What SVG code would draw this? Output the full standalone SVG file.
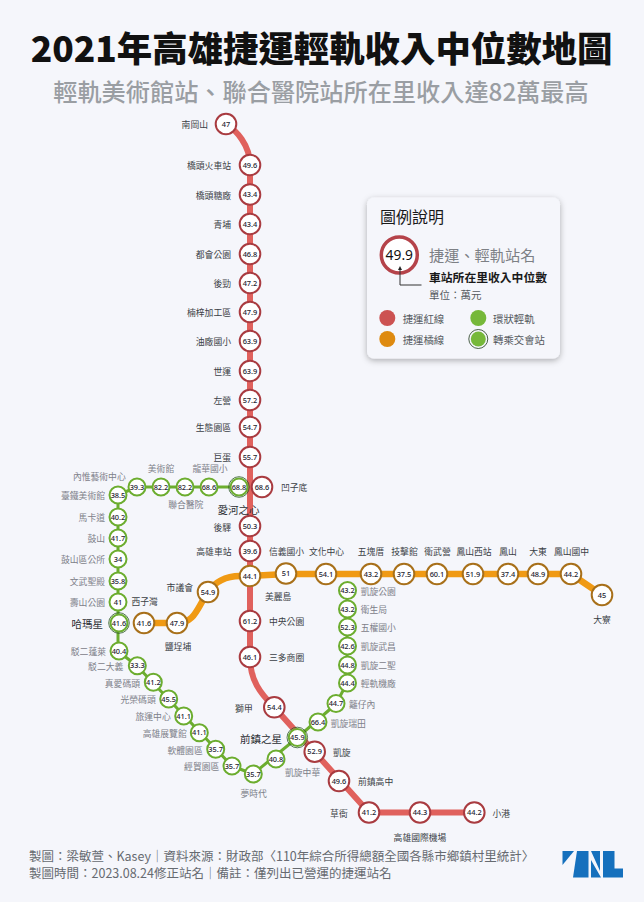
<svg xmlns="http://www.w3.org/2000/svg" width="644" height="902" viewBox="0 0 644 902">
<defs>
<style>
text{font-family:"Noto Sans CJK TC","Noto Sans",sans-serif}
.bg{fill:#f5f6fb}
.n{font-size:7.4px;font-weight:500;fill:#1d2430;text-anchor:middle;font-family:"Noto Sans","Noto Sans CJK TC",sans-serif}
.r circle.o{fill:#fff;stroke:#a93b40;stroke-width:2}
.y circle.o{fill:#fff;stroke:#a8701a;stroke-width:2}
.g circle.o{fill:#fff;stroke:#6cad2f;stroke-width:2}
.ring{fill:none;stroke:#2f5a28;stroke-width:.8}
.l{font-size:8.8px;fill:#3b3f46}
.lg{font-size:8.8px;fill:#7d8089}
.lb{font-size:10.5px;fill:#2b2e33}
.e{text-anchor:end}
.m{text-anchor:middle}
.lr{fill:none;stroke:#e0615d;stroke-width:6;stroke-linejoin:round}
.ly{fill:none;stroke:#f09a14;stroke-width:6.5;stroke-linejoin:round}
.lgn{fill:none;stroke:#6cad2f;stroke-width:3;stroke-linejoin:round}
.ft{font-size:12.5px;fill:#666a70}
.k{font-size:10.4px;fill:#555a60}
</style>
<filter id="sh" x="-10%" y="-10%" width="120%" height="125%"><feDropShadow dx="0" dy="2" stdDeviation="3" flood-color="#000" flood-opacity=".3"/></filter>
<marker id="ah" markerWidth="4" markerHeight="4" refX="2" refY="2" orient="auto"><path d="M0 0L4 2L0 4z" fill="#222"/></marker>
</defs>
<rect class="bg" width="644" height="902"/>
<text x="321.500" y="62" font-size="35.400" font-weight="900" fill="#111" text-anchor="middle">2021年高雄捷運輕軌收入中位數地圖</text>
<text x="321" y="100.500" font-size="24.200" font-weight="500" fill="#9a9ea3" text-anchor="middle">輕軌美術館站、聯合醫院站所在里收入達82萬最高</text>
<g id="connectors">
<path class="lgn" d="M239 487H137L118 495V651L137 666L232 766L253 774L297 738L336 704L347 683V590"/>
<path class="lr" d="M226 124C236 130 250 145 250 165V657C250 680 260 693 274 707L369 812.500H474"/>
<path class="ly" d="M144 623H177C195 623 197 608 208 592C214 583 225 576 240 576L250 576L286 574H571L602 595"/>
</g>
<g id="st-nangangshan" class="r"><circle class="o" cx="226" cy="124" r="10.300"/><text class="n" x="226" y="126.600">47</text><text class="l e" x="208" y="128">南岡山</text></g>
<g id="st-r2" class="r"><circle class="o" cx="250" cy="165" r="10.300"/><text class="n" x="250" y="167.600">49.6</text><text class="l e" x="231" y="169">橋頭火車站</text></g>
<g id="st-r3" class="r"><circle class="o" cx="250" cy="194.500" r="10.300"/><text class="n" x="250" y="197">43.4</text><text class="l e" x="231" y="198.500">橋頭糖廠</text></g>
<g id="st-r4" class="r"><circle class="o" cx="250" cy="224" r="10.300"/><text class="n" x="250" y="226.600">43.4</text><text class="l e" x="231" y="228">青埔</text></g>
<g id="st-r5" class="r"><circle class="o" cx="250" cy="254" r="10.300"/><text class="n" x="250" y="256.600">46.8</text><text class="l e" x="231" y="258">都會公園</text></g>
<g id="st-r6" class="r"><circle class="o" cx="250" cy="283" r="10.300"/><text class="n" x="250" y="285.600">47.2</text><text class="l e" x="231" y="287">後勁</text></g>
<g id="st-r7" class="r"><circle class="o" cx="250" cy="312" r="10.300"/><text class="n" x="250" y="314.600">47.9</text><text class="l e" x="231" y="316">楠梓加工區</text></g>
<g id="st-r8" class="r"><circle class="o" cx="250" cy="341" r="10.300"/><text class="n" x="250" y="343.600">63.9</text><text class="l e" x="231" y="345">油廠國小</text></g>
<g id="st-r9" class="r"><circle class="o" cx="250" cy="371" r="10.300"/><text class="n" x="250" y="373.600">63.9</text><text class="l e" x="231" y="375">世運</text></g>
<g id="st-r10" class="r"><circle class="o" cx="250" cy="400" r="10.300"/><text class="n" x="250" y="402.600">57.2</text><text class="l e" x="231" y="404">左營</text></g>
<g id="st-r11" class="r"><circle class="o" cx="250" cy="427" r="10.300"/><text class="n" x="250" y="429.600">54.7</text><text class="l e" x="231" y="431">生態園區</text></g>
<g id="st-r12" class="r"><circle class="o" cx="250" cy="457" r="10.300"/><text class="n" x="250" y="459.600">55.7</text><text class="l e" x="231" y="461">巨蛋</text></g>
<g id="st-r13" class="r"><circle class="o" cx="262" cy="487" r="10.300"/><text class="n" x="262" y="489.600">68.6</text><text class="l" x="281" y="491">凹子底</text></g>
<g id="st-r15" class="r"><circle class="o" cx="250" cy="526" r="10.300"/><text class="n" x="250" y="528.600">50.3</text><text class="l e" x="231" y="530.500">後驛</text></g>
<g id="st-r16" class="r"><circle class="o" cx="250" cy="551" r="10.300"/><text class="n" x="250" y="553.600">39.6</text><text class="l e" x="231.500" y="555">高雄車站</text></g>
<g id="st-r18" class="r"><circle class="o" cx="250" cy="621" r="10.300"/><text class="n" x="250" y="623.600">61.2</text><text class="l" x="269" y="625">中央公園</text></g>
<g id="st-r19" class="r"><circle class="o" cx="250" cy="657" r="10.300"/><text class="n" x="250" y="659.600">46.1</text><text class="l" x="269" y="661">三多商圈</text></g>
<g id="st-r20" class="r"><circle class="o" cx="274.300" cy="707.300" r="10.300"/><text class="n" x="274.300" y="710">54.4</text><text class="l e" x="252.700" y="712">獅甲</text></g>
<g id="st-r22" class="r"><circle class="o" cx="314.700" cy="751.700" r="10.300"/><text class="n" x="314.700" y="754.300">52.9</text><text class="l" x="333" y="755.500">凱旋</text></g>
<g id="st-r23" class="r"><circle class="o" cx="339" cy="781" r="10.300"/><text class="n" x="339" y="783.600">49.6</text><text class="l" x="358" y="785">前鎮高中</text></g>
<g id="st-r24" class="r"><circle class="o" cx="369" cy="812.500" r="10.300"/><text class="n" x="369" y="815">41.2</text><text class="l e" x="347.700" y="816.500">草衙</text></g>
<g id="st-r25" class="r"><circle class="o" cx="420" cy="812.500" r="10.300"/><text class="n" x="420" y="815">44.3</text><text class="l m" x="420" y="840.500">高雄國際機場</text></g>
<g id="st-r26" class="r"><circle class="o" cx="474.300" cy="812.500" r="10.300"/><text class="n" x="474.300" y="815">44.2</text><text class="l" x="492.500" y="816.500">小港</text></g>
<g id="st-o1" class="y"><circle class="o" cx="144" cy="623" r="10.300"/><text class="n" x="144" y="625.600">41.6</text><text class="l" x="131.500" y="604.500">西子灣</text></g>
<g id="st-o2" class="y"><circle class="o" cx="177" cy="623" r="10.300"/><text class="n" x="177" y="625.600">47.9</text><text class="l m" x="178" y="650">鹽埕埔</text></g>
<g id="st-o3" class="y"><circle class="o" cx="208" cy="592" r="10.300"/><text class="n" x="208" y="594.600">54.9</text><text class="l e" x="193" y="590.500">市議會</text></g>
<g id="st-o4" class="y"><circle class="o" cx="250" cy="576" r="10.300"/><text class="n" x="250" y="578.600">44.1</text><text class="l" x="265" y="599.500">美麗島</text></g>
<g id="st-o5" class="y"><circle class="o" cx="286" cy="573.500" r="10.300"/><text class="n" x="286" y="576">51</text><text class="l m" x="286.500" y="555">信義國小</text></g>
<g id="st-o6" class="y"><circle class="o" cx="326" cy="574" r="10.300"/><text class="n" x="326" y="576.600">54.1</text><text class="l m" x="326.500" y="555">文化中心</text></g>
<g id="st-o7" class="y"><circle class="o" cx="371" cy="574" r="10.300"/><text class="n" x="371" y="576.600">43.2</text><text class="l m" x="371" y="555">五塊厝</text></g>
<g id="st-o8" class="y"><circle class="o" cx="404" cy="574" r="10.300"/><text class="n" x="404" y="576.600">37.5</text><text class="l m" x="404.500" y="555">技擊館</text></g>
<g id="st-o9" class="y"><circle class="o" cx="437" cy="574" r="10.300"/><text class="n" x="437" y="576.600">60.1</text><text class="l m" x="437.500" y="555">衛武營</text></g>
<g id="st-o10" class="y"><circle class="o" cx="473" cy="574" r="10.300"/><text class="n" x="473" y="576.600">51.9</text><text class="l m" x="474" y="555">鳳山西站</text></g>
<g id="st-o11" class="y"><circle class="o" cx="508" cy="574" r="10.300"/><text class="n" x="508" y="576.600">37.4</text><text class="l m" x="508" y="555">鳳山</text></g>
<g id="st-o12" class="y"><circle class="o" cx="538" cy="574" r="10.300"/><text class="n" x="538" y="576.600">48.9</text><text class="l m" x="538" y="555">大東</text></g>
<g id="st-o13" class="y"><circle class="o" cx="571" cy="574" r="10.300"/><text class="n" x="571" y="576.600">44.2</text><text class="l m" x="571.500" y="555">鳳山國中</text></g>
<g id="st-o14" class="y"><circle class="o" cx="602" cy="595" r="10.300"/><text class="n" x="602" y="597.600">45</text><text class="l m" x="602" y="623">大寮</text></g>
<g id="st-g1" class="g"><circle class="o" cx="137" cy="487" r="8.500"/><text class="n" x="137" y="489.600">39.3</text><text class="lg e" x="125.700" y="480">內惟藝術中心</text></g>
<g id="st-g2" class="g"><circle class="o" cx="161" cy="487" r="8.500"/><text class="n" x="161" y="489.600">82.2</text><text class="lg m" x="161" y="472">美術館</text></g>
<g id="st-g3" class="g"><circle class="o" cx="185" cy="487" r="8.500"/><text class="n" x="185" y="489.600">82.2</text><text class="lg m" x="185.800" y="508">聯合醫院</text></g>
<g id="st-g4" class="g"><circle class="o" cx="209" cy="487" r="8.500"/><text class="n" x="209" y="489.600">68.6</text><text class="lg m" x="210" y="472">龍華國小</text></g>
<g id="st-ax" class="g"><circle class="o" cx="239" cy="487" r="8.500"/><circle class="ring" cx="239" cy="487" r="10.300"/><text class="n" x="239" y="489.600">68.8</text><text class="lb" x="217.500" y="514">愛河之心</text></g>
<g id="st-g6" class="g"><circle class="o" cx="118" cy="495" r="8.500"/><text class="n" x="118" y="497.600">38.5</text><text class="lg e" x="105" y="499">臺鐵美術館</text></g>
<g id="st-g7" class="g"><circle class="o" cx="118" cy="517" r="8.500"/><text class="n" x="118" y="519.600">40.2</text><text class="lg e" x="105" y="521">馬卡道</text></g>
<g id="st-g8" class="g"><circle class="o" cx="118" cy="538" r="8.500"/><text class="n" x="118" y="540.600">41.7</text><text class="lg e" x="105" y="542">鼓山</text></g>
<g id="st-g9" class="g"><circle class="o" cx="118" cy="559" r="8.500"/><text class="n" x="118" y="561.600">34</text><text class="lg e" x="105" y="563">鼓山區公所</text></g>
<g id="st-g10" class="g"><circle class="o" cx="118" cy="581" r="8.500"/><text class="n" x="118" y="583.600">35.8</text><text class="lg e" x="105" y="585">文武聖殿</text></g>
<g id="st-g11" class="g"><circle class="o" cx="118" cy="602" r="8.500"/><text class="n" x="118" y="604.600">41</text><text class="lg e" x="105" y="606">壽山公園</text></g>
<g id="st-hamasen" class="g"><circle class="o" cx="119" cy="623" r="8.500"/><circle class="ring" cx="119" cy="623" r="10.300"/><text class="n" x="119" y="625.600">41.6</text><text class="lb e" x="103" y="628">哈瑪星</text></g>
<g id="st-g13" class="g"><circle class="o" cx="119" cy="651" r="8.500"/><text class="n" x="119" y="653.600">40.4</text><text class="lg e" x="106" y="655">駁二蓬萊</text></g>
<g id="st-g14" class="g"><circle class="o" cx="137.300" cy="665.700" r="8.500"/><text class="n" x="137.300" y="668.300">33.3</text><text class="lg e" x="123.300" y="670">駁二大義</text></g>
<g id="st-g15" class="g"><circle class="o" cx="153.300" cy="682.300" r="8.500"/><text class="n" x="153.300" y="684.900">41.2</text><text class="lg e" x="140" y="686.500">真愛碼頭</text></g>
<g id="st-g16" class="g"><circle class="o" cx="168.700" cy="699" r="8.500"/><text class="n" x="168.700" y="701.600">45.5</text><text class="lg e" x="155.700" y="703">光榮碼頭</text></g>
<g id="st-g17" class="g"><circle class="o" cx="183.700" cy="716" r="8.500"/><text class="n" x="183.700" y="718.600">41.1</text><text class="lg e" x="170.700" y="720">旅運中心</text></g>
<g id="st-g18" class="g"><circle class="o" cx="199.300" cy="732.700" r="8.500"/><text class="n" x="199.300" y="735.300">41.1</text><text class="lg e" x="186.700" y="737">高雄展覽館</text></g>
<g id="st-g19" class="g"><circle class="o" cx="215.700" cy="749.300" r="8.500"/><text class="n" x="215.700" y="751.900">35.7</text><text class="lg e" x="202.700" y="753.500">軟體園區</text></g>
<g id="st-g20" class="g"><circle class="o" cx="232" cy="766" r="8.500"/><text class="n" x="232" y="768.600">35.7</text><text class="lg e" x="219.300" y="770">經貿園區</text></g>
<g id="st-g21" class="g"><circle class="o" cx="253.300" cy="774" r="8.500"/><text class="n" x="253.300" y="776.600">35.7</text><text class="lg m" x="253.700" y="796.500">夢時代</text></g>
<g id="st-g22" class="g"><circle class="o" cx="276" cy="759" r="8.500"/><text class="n" x="276" y="761.600">40.8</text><text class="lg" x="285" y="775.500">凱旋中華</text></g>
<g id="st-qz" class="g"><circle class="o" cx="297.300" cy="737.500" r="8.500"/><circle class="ring" cx="297.300" cy="737.500" r="10.300"/><text class="n" x="297.300" y="740.100">45.9</text><text class="lb e" x="282" y="742.500">前鎮之星</text></g>
<g id="st-g24" class="g"><circle class="o" cx="318" cy="722" r="8.500"/><text class="n" x="318" y="724.600">66.4</text><text class="lg" x="330.700" y="726.500">凱旋瑞田</text></g>
<g id="st-g25" class="g"><circle class="o" cx="336" cy="703.500" r="8.500"/><text class="n" x="336" y="706.100">44.7</text><text class="lg" x="349" y="708">籬仔內</text></g>
<g id="st-g26" class="g"><circle class="o" cx="347.500" cy="683" r="8.500"/><text class="n" x="347.500" y="685.600">44.4</text><text class="lg" x="360.700" y="687">輕軌機廠</text></g>
<g id="st-g27" class="g"><circle class="o" cx="347.500" cy="665" r="8.500"/><text class="n" x="347.500" y="667.600">44.8</text><text class="lg" x="360.700" y="669">凱旋二聖</text></g>
<g id="st-g28" class="g"><circle class="o" cx="347.500" cy="646" r="8.500"/><text class="n" x="347.500" y="648.600">42.6</text><text class="lg" x="360.700" y="650">凱旋武昌</text></g>
<g id="st-g29" class="g"><circle class="o" cx="347.500" cy="627" r="8.500"/><text class="n" x="347.500" y="629.600">52.3</text><text class="lg" x="360.700" y="631">五權國小</text></g>
<g id="st-g30" class="g"><circle class="o" cx="347.500" cy="609" r="8.500"/><text class="n" x="347.500" y="611.600">43.2</text><text class="lg" x="360.700" y="613">衛生局</text></g>
<g id="st-g31" class="g"><circle class="o" cx="347.500" cy="590.500" r="8.500"/><text class="n" x="347.500" y="593.100">43.2</text><text class="lg" x="360.700" y="594.500">凱旋公園</text></g>
<g id="legend">
<rect x="367" y="197.500" width="193" height="161" rx="7" fill="#f5f6fb" filter="url(#sh)"/>
<text x="380" y="223" font-size="16" fill="#1a1a1a">圖例說明</text>
<circle cx="399.300" cy="255" r="18" fill="#fff" stroke="#b5434a" stroke-width="3.500"/>
<text x="399.300" y="260" font-size="13.800" fill="#111" text-anchor="middle" style="font-family:'Noto Sans',sans-serif">49.9</text>
<path d="M421.500 285H400V268" fill="none" stroke="#333" stroke-width="1" marker-end="url(#ah)"/>
<text x="429" y="261" font-size="15.200" fill="#7d8085">捷運、輕軌站名</text>
<text x="429" y="282" font-size="11.800" font-weight="700" fill="#1a1a1a">車站所在里收入中位數</text>
<text x="429" y="298.500" font-size="10.500" fill="#555a60">單位：萬元</text>
<circle cx="387.300" cy="318" r="8" fill="#cc5252"/><text class="k" x="402.700" y="322.500">捷運紅線</text>
<circle cx="478.300" cy="318" r="8" fill="#76b83a"/><text class="k" x="493" y="322.500">環狀輕軌</text>
<circle cx="387.300" cy="339" r="8" fill="#de8a10"/><text class="k" x="402.700" y="343.500">捷運橘線</text>
<circle cx="478.300" cy="339" r="7.500" fill="#76b83a"/><circle class="ring" cx="478.300" cy="339" r="9.500" style="stroke:#1f3a1a"/><text class="k" x="493" y="343.500">轉乘交會站</text>
</g>
<text class="ft" x="29" y="861">製圖：梁敏萱、Kasey｜資料來源：財政部〈110年綜合所得總額全國各縣市鄉鎮村里統計〉</text>
<text class="ft" x="29" y="878">製圖時間：2023.08.24修正站名｜備註：僅列出已營運的捷運站名</text>
<g id="tnl" fill="#1570bd">
<path d="M562.500 851H574L562.500 865Z"/>
<path d="M577 851H588.500V877.500H573Z"/>
<path d="M591 851H600V871ZM591 860L601 877.500H591Z"/>
<path d="M603 851H614.500V868.500H623V877.500H603Z"/>
</g>
</svg>
